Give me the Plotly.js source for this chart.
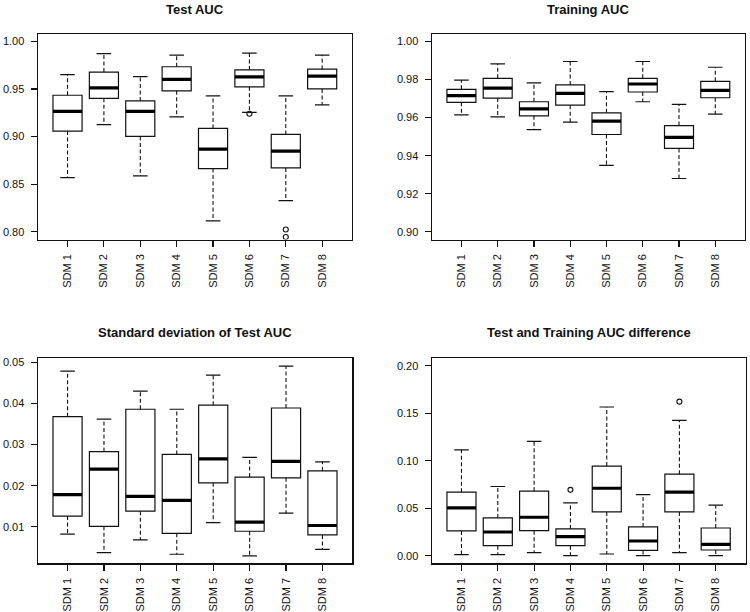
<!DOCTYPE html>
<html>
<head>
<meta charset="utf-8">
<script src="https://cdn.plot.ly/plotly-3.0.1.min.js"></script>
<style>html,body{margin:0;padding:0;background:#fff;}#chart{width:750px;height:612px;}</style>
</head>
<body>
<div id="chart"></div>
<script>
// Categories
const models = ["SDM 1","SDM 2","SDM 3","SDM 4","SDM 5","SDM 6","SDM 7","SDM 8"];

// Panel 1: Test AUC
const testLow  = [0.857, 0.9125, 0.8587, 0.9206, 0.8116, 0.9255, 0.8327, 0.9332];
const testQ1   = [0.9058, 0.9402, 0.9002, 0.9480, 0.8664, 0.9522, 0.8671, 0.9500];
const testMed  = [0.9265, 0.9511, 0.9265, 0.9600, 0.8868, 0.9627, 0.8847, 0.9634];
const testQ3   = [0.9434, 0.9677, 0.9374, 0.9733, 0.9086, 0.9700, 0.9023, 0.9708];
const testHigh = [0.965, 0.987, 0.963, 0.9856, 0.9427, 0.9877, 0.9427, 0.9856];
const testOutX = [6, 7, 7];
const testOutY = [0.9240, 0.8025, 0.7947];

// Panel 2: Training AUC
const trainLow  = [0.9614, 0.9604, 0.9537, 0.9576, 0.9349, 0.9683, 0.9280, 0.9618];
const trainQ1   = [0.9680, 0.9702, 0.9609, 0.9665, 0.9511, 0.9734, 0.9438, 0.9704];
const trainMed  = [0.9715, 0.9754, 0.9646, 0.9727, 0.9581, 0.9776, 0.9496, 0.9743];
const trainQ3   = [0.9748, 0.9806, 0.9683, 0.9771, 0.9625, 0.9806, 0.9558, 0.9790];
const trainHigh = [0.9796, 0.9882, 0.9782, 0.9894, 0.9736, 0.9894, 0.9669, 0.9864];
const trainOutX = [];
const trainOutY = [];

// Panel 3: Standard deviation of Test AUC
const sdLow  = [0.0082, 0.0037, 0.0068, 0.0033, 0.0110, 0.0029, 0.0133, 0.0045];
const sdQ1   = [0.0126, 0.0101, 0.0138, 0.0084, 0.0207, 0.0089, 0.0219, 0.0080];
const sdMed  = [0.0178, 0.0240, 0.0174, 0.0164, 0.0265, 0.0111, 0.0259, 0.0103];
const sdQ3   = [0.0368, 0.0283, 0.0386, 0.0276, 0.0396, 0.0221, 0.0389, 0.0236];
const sdHigh = [0.0479, 0.0362, 0.0430, 0.0386, 0.0469, 0.0269, 0.0491, 0.0258];
const sdOutX = [];
const sdOutY = [];

// Panel 4: Test and Training AUC difference
const diffLow  = [0.0011, 0.0011, 0.0032, 0.0000, 0.0018, 0.0000, 0.0032, 0.0000];
const diffQ1   = [0.0261, 0.0106, 0.0264, 0.0106, 0.0461, 0.0056, 0.0461, 0.0060];
const diffMed  = [0.0504, 0.0250, 0.0405, 0.0201, 0.0711, 0.0155, 0.0669, 0.0120];
const diffQ3   = [0.0669, 0.0398, 0.0680, 0.0282, 0.0944, 0.0303, 0.0859, 0.0292];
const diffHigh = [0.1116, 0.0729, 0.1204, 0.0556, 0.1567, 0.0644, 0.1426, 0.0532];
const diffOutX = [4, 7];
const diffOutY = [0.0694, 0.1623];

const titles = ["Test AUC", "Training AUC", "Standard deviation of Test AUC", "Test and Training AUC difference"];
const yTicks = [
  [0.80, 0.85, 0.90, 0.95, 1.00],
  [0.90, 0.92, 0.94, 0.96, 0.98, 1.00],
  [0.01, 0.02, 0.03, 0.04, 0.05],
  [0.00, 0.05, 0.10, 0.15, 0.20]
];
const yRanges = [[0.792, 1.008], [0.896, 1.004], [0.0011, 0.0510], [-0.008, 0.208]];

const panels = [
  {lo: testLow, q1: testQ1, med: testMed, q3: testQ3, hi: testHigh, ox: testOutX, oy: testOutY},
  {lo: trainLow, q1: trainQ1, med: trainMed, q3: trainQ3, hi: trainHigh, ox: trainOutX, oy: trainOutY},
  {lo: sdLow, q1: sdQ1, med: sdMed, q3: sdQ3, hi: sdHigh, ox: sdOutX, oy: sdOutY},
  {lo: diffLow, q1: diffQ1, med: diffMed, q3: diffQ3, hi: diffHigh, ox: diffOutX, oy: diffOutY}
];

const W = 750, H = 612;
const frames = [
  {x0: 37.7, x1: 352.0, y0: 33.7, y1: 239.5},
  {x0: 431.7, x1: 745.0, y0: 33.7, y1: 239.5},
  {x0: 37.7, x1: 352.3, y0: 358.3, y1: 563.3},
  {x0: 431.7, x1: 745.5, y0: 358.3, y1: 563.3}
];

const pos = models.map((m, i) => i + 1);
const boxHalf = 0.4, capHalf = 0.2;
const FONT = "Liberation Sans, Arial, sans-serif";

const boxes = [], overlays = [];
const layout = {
  width: W, height: H,
  margin: {l: 0, r: 0, t: 0, b: 0},
  paper_bgcolor: "#fff", plot_bgcolor: "#fff",
  showlegend: false,
  font: {family: FONT, size: 11, color: "#111"},
  annotations: []
};

panels.forEach((p, k) => {
  const n = k + 1;
  const xa = "x" + (n === 1 ? "" : n), ya = "y" + (n === 1 ? "" : n);
  boxes.push({
    type: "box", xaxis: xa, yaxis: ya,
    x: pos, q1: p.q1, median: p.med, q3: p.q3,
    lowerfence: p.q1, upperfence: p.q3,
    width: 2 * boxHalf, whiskerwidth: 0,
    fillcolor: "#fff", line: {color: "#111", width: 1.2},
    boxpoints: false, hoverinfo: "skip"
  });
  const wx = [], wy = [], cx = [], cy = [], mx = [], my = [];
  pos.forEach((x, i) => {
    wx.push(x, x, null, x, x, null);
    wy.push(p.q3[i], p.hi[i], null, p.q1[i], p.lo[i], null);
    cx.push(x - capHalf, x + capHalf, null, x - capHalf, x + capHalf, null);
    cy.push(p.hi[i], p.hi[i], null, p.lo[i], p.lo[i], null);
    mx.push(x - boxHalf, x + boxHalf, null);
    my.push(p.med[i], p.med[i], null);
  });
  overlays.push({type: "scatter", mode: "lines", xaxis: xa, yaxis: ya, x: wx, y: wy,
    line: {color: "#111", width: 1.1, dash: "4px,2.5px"}, hoverinfo: "skip"});
  overlays.push({type: "scatter", mode: "lines", xaxis: xa, yaxis: ya, x: cx, y: cy,
    line: {color: "#111", width: 1.2}, hoverinfo: "skip"});
  overlays.push({type: "scatter", mode: "lines", xaxis: xa, yaxis: ya, x: mx, y: my,
    line: {color: "#000", width: 3.2}, hoverinfo: "skip"});
  if (p.ox.length) {
    overlays.push({type: "scatter", mode: "markers", xaxis: xa, yaxis: ya, x: p.ox, y: p.oy,
      marker: {symbol: "circle-open", size: 5, color: "#111", line: {width: 1.1}}, hoverinfo: "skip"});
  }
  const f = frames[k];
  const axCommon = {
    showgrid: false, zeroline: false, showline: true, mirror: true,
    linecolor: "#111", linewidth: 1.2,
    ticks: "outside", ticklen: 6, tickwidth: 1.1, tickcolor: "#111",
    tickfont: {family: FONT, size: 11, color: "#111"}
  };
  layout["xaxis" + (n === 1 ? "" : n)] = Object.assign({}, axCommon, {
    domain: [f.x0 / W, f.x1 / W], anchor: ya,
    range: [0.18, 8.82], tickmode: "array", tickvals: pos, ticktext: models,
    tickangle: -90, ticklabelstandoff: 3
  });
  layout["yaxis" + (n === 1 ? "" : n)] = Object.assign({}, axCommon, {
    domain: [1 - f.y1 / H, 1 - f.y0 / H], anchor: xa,
    range: yRanges[k], tickmode: "array", tickvals: yTicks[k],
    ticktext: yTicks[k].map(v => v.toFixed(2)), ticklabelstandoff: 4
  });
  layout.annotations.push({
    xref: "paper", yref: "paper",
    x: (f.x0 + f.x1) / 2 / W, y: 1 - (k < 2 ? 9.5 : 332.7) / H,
    xanchor: "center", yanchor: "middle", showarrow: false,
    text: "<b>" + titles[k] + "</b>",
    font: {family: FONT, size: 13, color: "#111"}
  });
});

Plotly.newPlot("chart", boxes.concat(overlays), layout, {staticPlot: true, displayModeBar: false});
</script>
</body>
</html>
